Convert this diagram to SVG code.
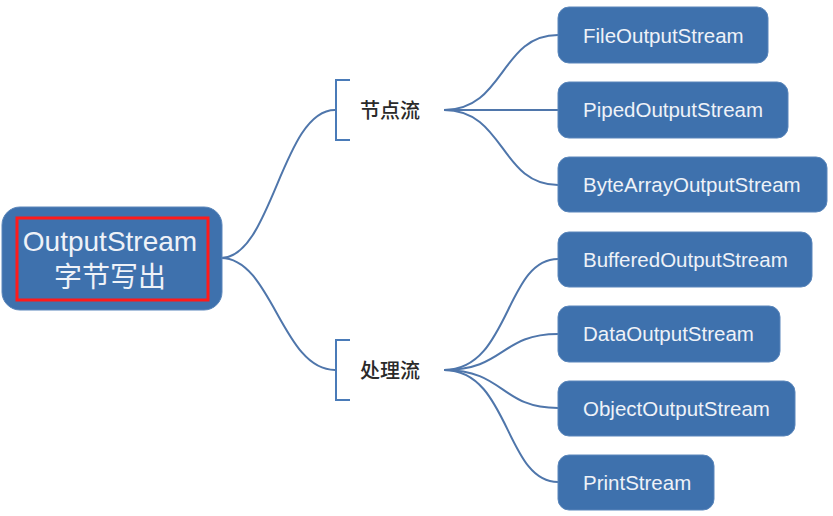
<svg xmlns="http://www.w3.org/2000/svg" width="833" height="516" viewBox="0 0 833 516">
<style>
.box{fill:#3e71ad;stroke:#5a86bb;stroke-width:1}
.lbl{fill:#eef2f8;font-family:"Liberation Sans","Noto Sans CJK SC",sans-serif;font-size:20.5px}
.root{fill:#eef2f8;font-family:"Liberation Sans","Noto Sans CJK SC",sans-serif;font-size:28px;text-anchor:middle}
.br{fill:#2a2a2a;font-family:"Noto Sans CJK SC",sans-serif;font-size:20px;font-weight:500}
.con{fill:none;stroke:#4f76ab;stroke-width:2}
.brk{fill:none;stroke:#4a7bb8;stroke-width:2}
</style>
<rect width="833" height="516" fill="#ffffff"/>
<g id="connectors">
<path class="con" d="M221,258 C272,258 282,110 335,110"/>
<path class="con" d="M221,258 C272,258 282,370 335,370"/>
<path class="brk" d="M350,80 H336 V140 H350"/>
<path class="brk" d="M350,340 H336 V400 H350"/>
<path class="con" d="M444,110 C505,110 500,35 558,35"/>
<path class="con" d="M444,110 H558"/>
<path class="con" d="M444,110 C505,110 500,185 558,185"/>
<path class="con" d="M444,370 C510,370 505,259 558,259"/>
<path class="con" d="M444,370 C505,370 500,334 558,334"/>
<path class="con" d="M444,370 C505,370 500,408 558,408"/>
<path class="con" d="M444,370 C510,370 505,482 558,482"/>
</g>
<g id="root">
<rect class="box" x="2" y="207" width="220" height="103" rx="18"/>
<rect x="17" y="218" width="191" height="82" fill="none" stroke="#ff1a1a" stroke-width="3"/>
<text class="root" x="110" y="251">OutputStream</text>
<text class="root" x="110" y="287">字节写出</text>
</g>
<g id="node-stream">
<text class="br" x="360" y="118">节点流</text>
</g>
<g id="process-stream">
<text class="br" x="360" y="378">处理流</text>
</g>
<g id="file">
<rect class="box" x="558" y="7" width="210" height="56" rx="11"/>
<text class="lbl" x="583" y="43">FileOutputStream</text>
</g>
<g id="piped">
<rect class="box" x="558" y="82" width="230" height="56" rx="11"/>
<text class="lbl" x="583" y="117">PipedOutputStream</text>
</g>
<g id="bytearray">
<rect class="box" x="558" y="157" width="269" height="55" rx="11"/>
<text class="lbl" x="583" y="192">ByteArrayOutputStream</text>
</g>
<g id="buffered">
<rect class="box" x="558" y="232" width="254" height="55" rx="11"/>
<text class="lbl" x="583" y="267">BufferedOutputStream</text>
</g>
<g id="data">
<rect class="box" x="558" y="306" width="222" height="56" rx="11"/>
<text class="lbl" x="583" y="341">DataOutputStream</text>
</g>
<g id="object">
<rect class="box" x="558" y="381" width="237" height="55" rx="11"/>
<text class="lbl" x="583" y="416">ObjectOutputStream</text>
</g>
<g id="print">
<rect class="box" x="558" y="455" width="156" height="55" rx="11"/>
<text class="lbl" x="583" y="490">PrintStream</text>
</g>
</svg>
